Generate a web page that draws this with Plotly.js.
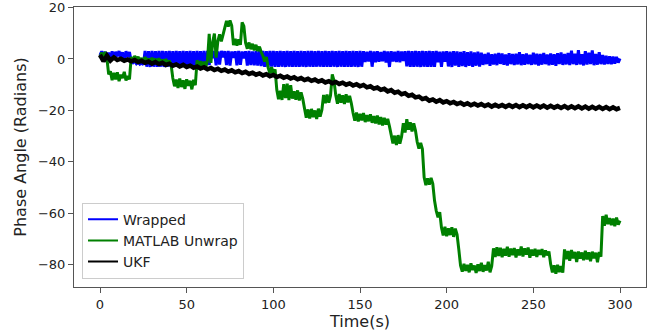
<!DOCTYPE html>
<html>
<head>
<meta charset="utf-8">
<script src="https://cdn.plot.ly/plotly-3.0.1.min.js"></script>
<style>html,body{margin:0;padding:0;background:#fff;}#chart{width:668px;height:332px;}</style>
</head>
<body>
<div id="chart"></div>
<script>
// sample time grid (s): one sample per second for the raw phase series, every 2 s for the UKF estimate
const tStart = 0, tEnd = 300;
const timeRaw = Array.from({length: (tEnd - tStart) + 1}, (_, i) => tStart + i);
const timeUKF = Array.from({length: (tEnd - tStart) / 2 + 1}, (_, i) => tStart + 2 * i);

const seriesNames = ["Wrapped", "MATLAB Unwrap", "UKF"];
const seriesColors = ["#0000ff", "#008000", "#000000"];

const wrapped = [
  1.5, 3.0, 0.5, 2.8, -1.0, 2.5, -0.5, 3.0, 0.2, 2.8,
  1.0, 3.1, 0.5, 2.6, -1.0, 3.0, 0.8, 2.7, -1.0, -1.5,
  -0.8, -1.8, -1.2, -2.0, -1.5, -2.2, 3.1, -3.0, 3.0, -3.1,
  3.1, -3.0, 3.0, -3.1, 3.1, -3.0, 3.1, -3.1, 3.0, -3.0,
  3.1, -3.1, 3.0, -3.0, 3.1, -3.0, 3.0, -3.1, 3.1, -3.0,
  3.0, -3.1, 3.1, -3.0, 3.0, -3.1, 3.1, -3.0, 3.0, -3.1,
  3.1, -3.0, 3.1, -2.4, 3.0, 0.3, 3.1, -2.5, 2.9, -2.2,
  3.1, 0.6, 3.0, -2.4, 3.1, -2.6, 2.9, 0.4, 3.0, -2.5,
  3.1, -2.3, 2.9, 0.2, 3.0, -2.6, 3.1, -2.4, 2.9, -2.5,
  3.0, -2.6, 3.1, -2.8, 3.1, -3.0, 3.0, -3.1, 3.1, -3.0,
  3.1, -3.1, 3.0, -3.0, 3.1, -3.0, 3.0, -3.1, 3.1, -3.0,
  3.0, -3.1, 3.1, -3.0, 3.0, -3.1, 3.1, -3.0, 3.0, -3.1,
  3.1, -3.0, 3.1, -3.1, 3.0, -3.0, 3.1, -3.0, 3.0, -3.1,
  3.1, -3.0, 3.0, -3.1, 3.1, -3.0, 3.0, -3.1, 3.1, -3.0,
  3.0, -3.1, 3.1, -3.0, 3.0, -3.1, 3.1, -3.0, 3.0, -3.1,
  3.1, -3.0, 3.0, -1.2, 2.8, -1.0, 3.1, -3.0, 2.9, -1.3,
  3.0, -1.1, 2.7, -0.9, 3.1, -1.4, 2.9, -3.1, 3.0, -1.0,
  2.8, -1.2, 3.1, -1.3, 2.9, -0.8, 3.0, -2.9, 3.1, -3.0,
  3.0, -3.1, 3.1, -3.0, 3.0, -3.1, 3.1, -3.0, 3.0, -3.1,
  3.1, -3.0, 3.0, -3.1, 3.1, -1.3, 2.8, -3.0, 2.9, -1.1,
  3.0, -2.9, 2.8, -3.1, 3.0, -2.6, 2.9, -3.0, 2.7, -2.8,
  3.0, -3.1, 2.6, -2.7, 2.9, -3.0, 2.5, -2.6, 2.8, -2.9,
  2.4, -2.3, 1.9, -2.0, 2.4, -2.6, 1.8, -2.1, 2.0, -2.4,
  2.3, -1.9, 2.1, -2.2, 1.7, -2.5, 2.2, -2.0, 1.9, -2.3,
  2.0, -2.1, 2.6, -2.4, 1.8, -2.2, 2.1, -2.0, 1.6, -2.3,
  2.4, -2.1, 2.0, -2.5, 1.9, -2.2, 2.3, -2.0, 1.7, -2.4,
  2.1, -2.2, 1.8, -2.6, 2.2, -2.0, 2.5, -2.3, 1.9, -2.1,
  2.3, -2.4, 3.2, -2.0, 2.0, -2.3, 3.4, -2.1, 1.8, -2.5,
  3.0, -2.2, 2.4, -2.0, 3.3, -2.4, 1.9, -2.2, 2.6, -2.0,
  1.5, -2.1, 1.2, -1.9, 1.0, -2.0, 0.9, -1.8, 0.8, -1.4,
  0.2
];

const matlabUnwrap = [
  0.5, 2.5, -0.5, 2.8, 0.2, -6.0, -4.8, -8.2, -5.4, -7.9,
  -5.2, -8.6, -6.1, -7.4, -5.0, -8.3, -6.6, -7.9, 0.8, -0.9,
  1.2, -0.6, 0.9, -1.1, 0.4, -1.3, 0.8, -0.9, 0.2, -1.6,
  0.5, -1.4, 0.1, -1.7, 0.3, -1.9, -0.2, -2.1, 0.0, -2.3,
  -0.6, -2.2, -7.4, -10.6, -8.0, -11.3, -7.6, -10.9, -8.3, -11.6,
  -7.9, -10.4, -8.5, -11.8, -8.1, -10.2, -0.5, -2.6, -0.9, -2.9,
  -1.1, -3.0, -0.6, 9.8, -1.5, 6.5, 9.9, 0.5, 7.0, 9.6,
  6.8, 9.5, 12.2, 14.8, 12.6, 15.0, 12.9, 5.4, 7.8, 5.2,
  7.6, 5.5, 14.2, 12.8, 6.2, 4.0, 6.4, 3.8, 5.9, 3.4,
  5.5, 3.1, 4.8, 2.7, 1.2, -1.0, 0.8, -3.4, -5.6, -3.2,
  -5.8, -4.0, -12.0, -15.6, -12.4, -15.9, -9.8, -15.2, -9.6, -16.0,
  -10.2, -15.4, -12.6, -15.8, -12.2, -16.1, -13.0, -15.5, -19.2, -22.8,
  -19.6, -23.1, -19.4, -22.6, -20.0, -23.3, -19.3, -22.4, -19.8, -14.0,
  -17.2, -13.8, -17.0, -14.2, -6.0, -8.5, -14.0, -17.4, -13.6, -17.0,
  -14.1, -17.5, -13.7, -16.9, -14.3, -17.2, -21.0, -24.0, -20.8, -24.3,
  -21.3, -23.9, -21.0, -24.5, -21.8, -24.2, -21.5, -24.8, -22.2, -25.0,
  -22.0, -25.4, -22.6, -25.8, -22.9, -25.5, -23.3, -26.2, -29.5, -32.8,
  -29.8, -33.4, -29.6, -32.9, -30.1, -25.0, -28.6, -23.4, -27.5, -24.6,
  -28.2, -25.0, -27.8, -32.2, -34.8, -32.6, -35.0, -46.0, -49.0, -46.4,
  -48.8, -46.2, -48.5, -55.0, -59.0, -61.5, -59.5, -65.5, -68.6, -65.2,
  -68.9, -65.8, -68.4, -65.4, -69.1, -65.9, -68.2, -74.0, -80.2, -82.6,
  -79.6, -82.3, -80.0, -82.9, -79.4, -82.0, -80.3, -83.1, -79.8, -82.4,
  -79.2, -82.7, -80.1, -82.2, -78.8, -82.9, -80.4, -73.6, -76.9, -73.2,
  -76.5, -73.4, -77.0, -73.8, -76.4, -73.0, -76.8, -73.7, -76.2, -73.5,
  -77.1, -74.0, -76.3, -72.9, -76.7, -73.6, -76.0, -73.3, -77.2, -74.1,
  -76.4, -73.8, -76.9, -74.2, -76.1, -73.9, -77.0, -74.4, -76.3, -74.8,
  -79.8, -82.9, -80.2, -83.4, -80.0, -82.8, -80.5, -83.0, -74.0, -77.8,
  -74.6, -78.4, -74.2, -77.5, -75.0, -78.9, -74.8, -77.6, -75.2, -78.2,
  -74.5, -77.9, -75.1, -78.6, -74.9, -77.4, -75.3, -79.0, -75.0, -76.8,
  -61.0, -64.8, -60.5, -64.2, -61.8, -64.6, -62.0, -65.0, -61.6, -64.4,
  -62.8
];

const ukf = [
  1.6, -0.9, 1.3, -0.6, 0.6, -0.4, 0.1, -0.7, -0.2, -0.9,
  -0.4, -1.2, -0.7, -1.5, -1.0, -1.8, -1.2, -2.0, -1.5, -2.3,
  -1.8, -2.6, -2.1, -2.9, -2.3, -3.1, -2.6, -3.4, -2.9, -3.7,
  -3.2, -4.0, -3.5, -4.3, -3.8, -4.6, -4.1, -4.9, -4.4, -5.2,
  -4.7, -5.5, -5.0, -5.8, -5.3, -6.1, -5.6, -6.4, -5.9, -6.7,
  -6.2, -7.0, -6.5, -7.3, -6.8, -7.6, -7.1, -7.9, -7.4, -8.2,
  -7.7, -8.5, -8.0, -8.8, -8.3, -9.1, -8.6, -9.4, -8.9, -9.7,
  -9.2, -10.0, -9.5, -10.3, -9.8, -10.6, -10.1, -11.0, -10.6, -11.5,
  -11.1, -12.0, -11.6, -12.6, -12.1, -13.1, -12.7, -13.7, -13.3, -14.3,
  -13.9, -14.9, -14.6, -15.6, -15.2, -16.2, -15.7, -16.6, -16.0, -16.9,
  -16.4, -17.2, -16.7, -17.5, -17.0, -17.8, -17.2, -18.0, -17.4, -18.1,
  -17.5, -18.3, -17.7, -18.5, -17.8, -18.5, -17.9, -18.6, -17.9, -18.6,
  -17.9, -18.7, -18.0, -18.7, -18.0, -18.8, -18.1, -18.8, -18.1, -18.9,
  -18.2, -18.9, -18.3, -19.0, -18.3, -19.1, -18.4, -19.1, -18.4, -19.2,
  -18.5, -19.3, -18.6, -19.3, -18.6, -19.4, -18.7, -19.5, -18.8, -19.5,
  -19.0
];

const xTicks = [0, 50, 100, 150, 200, 250, 300];
const yTicks = [-80, -60, -40, -20, 0, 20];
const yTickText = ["\u221280", "\u221260", "\u221240", "\u221220", "0", "20"];

const font = "DejaVu Sans, sans-serif";
const frameColor = "#555555";
const textColor = "#222222";

const traces = [
  {x: timeRaw, y: wrapped, name: seriesNames[0], type: "scatter", mode: "lines", showlegend: false,
   line: {color: seriesColors[0], width: 3, simplify: false}},
  {x: timeRaw, y: matlabUnwrap, name: seriesNames[1], type: "scatter", mode: "lines", showlegend: false,
   line: {color: seriesColors[1], width: 3, simplify: false}},
  {x: timeUKF, y: ukf, name: seriesNames[2], type: "scatter", mode: "lines", showlegend: false,
   line: {color: seriesColors[2], width: 4.5, simplify: false}}
];
// legend entries (no data of their own)
seriesNames.forEach((nm, i) => {
  traces.push({x: [null], y: [null], name: nm, type: "scatter", mode: "lines",
    line: {color: seriesColors[i], width: 2}, showlegend: true, hoverinfo: "skip"});
});

const layout = {
  width: 668, height: 332,
  margin: {l: 74, r: 22, t: 7, b: 45, pad: 0},
  paper_bgcolor: "#ffffff", plot_bgcolor: "#ffffff",
  font: {family: font, size: 13, color: textColor},
  showlegend: true,
  legend: {
    x: 0.014, y: 0.03, xanchor: "left", yanchor: "bottom",
    bgcolor: "rgba(255,255,255,0.9)", bordercolor: "#cccccc", borderwidth: 1,
    font: {family: font, size: 14, color: textColor},
    tracegroupgap: 0
  },
  xaxis: {
    range: [-15, 315], tickvals: xTicks, ticktext: xTicks.map(String),
    showgrid: false, zeroline: false, ticks: "outside", ticklen: 5, tickwidth: 1,
    tickcolor: frameColor, showline: true, linecolor: frameColor, linewidth: 1, mirror: true,
    tickfont: {family: font, size: 13, color: textColor},
    title: {text: "Time(s)", font: {family: font, size: 16, color: textColor}, standoff: 1}
  },
  yaxis: {
    range: [-88.6, 20.2], tickvals: yTicks, ticktext: yTickText,
    showgrid: false, zeroline: false, ticks: "outside", ticklen: 5, tickwidth: 1,
    tickcolor: frameColor, showline: true, linecolor: frameColor, linewidth: 1, mirror: true,
    tickfont: {family: font, size: 13, color: textColor},
    title: {text: "Phase Angle (Radians)", font: {family: font, size: 16, color: textColor}, standoff: 7}
  }
};

Plotly.newPlot("chart", traces, layout, {displayModeBar: false, staticPlot: true});
</script>
</body>
</html>
